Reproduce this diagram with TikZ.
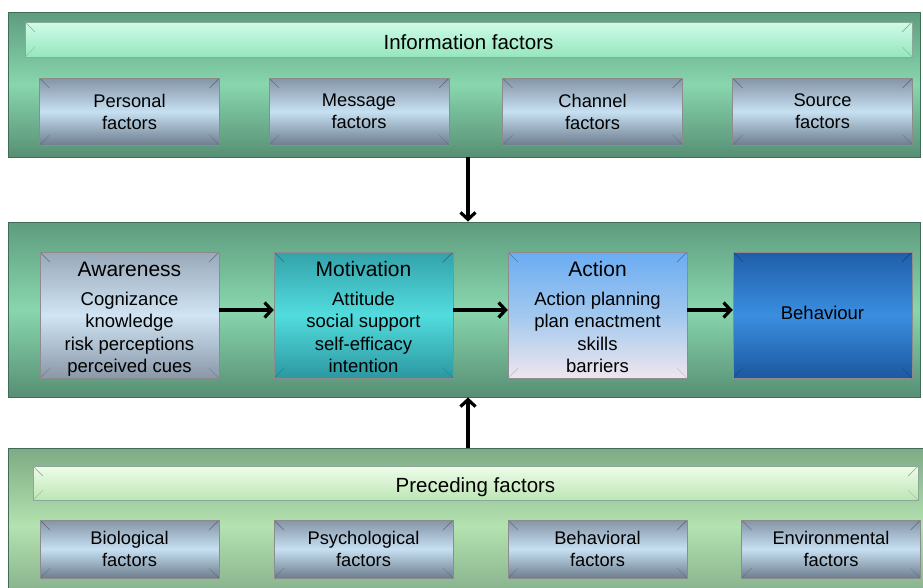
\documentclass[tikz,border=0pt]{standalone}
\usepackage{fontspec}
\setmainfont{Liberation Sans}
\usetikzlibrary{arrows.meta}

\definecolor{panelline}{HTML}{3F6E57}
\definecolor{infotop}{HTML}{5E9C7E}
\definecolor{infomid}{HTML}{88D6AE}
\definecolor{infobot}{HTML}{578F74}
\definecolor{infobartop}{HTML}{CFFCE8}
\definecolor{infobarbot}{HTML}{96E6BE}
\definecolor{pretop}{HTML}{7FAA84}
\definecolor{premid}{HTML}{B4E2B0}
\definecolor{prebot}{HTML}{7FA886}
\definecolor{prebartop}{HTML}{EEFCEA}
\definecolor{prebarbot}{HTML}{BCE6B4}
\definecolor{boxtop}{HTML}{8494A6}
\definecolor{boxmid}{HTML}{C6E0F2}
\definecolor{boxbot}{HTML}{6E7E8E}
\definecolor{awaretop}{HTML}{98A8B8}
\definecolor{awaremid}{HTML}{D0E4F4}
\definecolor{awarebot}{HTML}{8A98A8}
\definecolor{motivtop}{HTML}{33A2AA}
\definecolor{motivmid}{HTML}{52DCDE}
\definecolor{motivbot}{HTML}{2C98A0}
\definecolor{actiontop}{HTML}{6AACF2}
\definecolor{actionmid}{HTML}{A2C8EE}
\definecolor{actionbot}{HTML}{EEE6EE}
\definecolor{behavtop}{HTML}{1F5EA8}
\definecolor{behavmid}{HTML}{3A8EE0}
\definecolor{behavbot}{HTML}{1C58A0}

\tikzset{
  panel/.style={draw=panelline, line width=0.8pt, inner sep=0pt},
  bevel/.style={path picture={
    \draw[black, opacity=0.3, line width=0.7pt]
      (path picture bounding box.north west) -- ++(10,10)
      (path picture bounding box.north east) -- ++(-10,10);
    \draw[black, opacity=0.15, line width=0.7pt]
      (path picture bounding box.south west) -- ++(10,-10)
      (path picture bounding box.south east) -- ++(-10,-10);}},
  titlebar/.style={bevel, draw=panelline!60, line width=0.5pt, inner sep=0pt,
    text height=19pt, text depth=0pt, font=\fontsize{20.5}{24}\selectfont},
  factorbox/.style={bevel, draw=black!45, line width=0.5pt, inner sep=0pt,
    top color=boxtop, bottom color=boxbot, middle color=boxmid,
    align=center, font=\fontsize{18.3}{22}\selectfont},
  stagebox/.style={bevel, draw=black!45, line width=0.5pt, inner sep=0pt,
    minimum width=179, minimum height=126,
    align=center, font=\fontsize{18.5}{22.5}\selectfont,
    execute at end node={\rule[-5pt]{0pt}{0pt}}},
  flow/.style={-{Straight Barb[length=7pt,width=15pt,line width=3.2pt]},
    line width=3.2pt}
}

\newcommand{\stagetitle}[1]{{\fontsize{21}{22}\selectfont\rule{0pt}{24pt}#1}\\[6.5pt]}

\begin{document}
\begin{tikzpicture}[x=1pt, y=-1pt]
  \useasboundingbox (0,0) rectangle (923,587);
  \clip (0,0) rectangle (923,587);

  % Information factors
  \node[panel, top color=infotop, bottom color=infobot, middle color=infomid,
    minimum width=912, minimum height=145] (info) at (464,84.5) {};
  \node[titlebar, top color=infobartop, bottom color=infobarbot,
    minimum width=887, minimum height=35] (infotitle) at (468.5,39.5) {Information factors};
  \foreach \name/\xc/\txt in {personal/129.5/Personal, message/359/Message,
      channel/592.5/Channel, source/822.5/Source}{
    \node[factorbox, minimum width=180, minimum height=67] (\name) at (\xc,111.5) {\txt\\factors};
  }

  % stages
  \node[panel, top color=infotop, bottom color=infobot, middle color=infomid,
    minimum width=912, minimum height=175] (core) at (464,309.5) {};
  \node[stagebox, top color=awaretop, bottom color=awarebot, middle color=awaremid]
    (aware) at (129.5,315) {\stagetitle{Awareness}Cognizance\\knowledge\\risk perceptions\\perceived cues};
  \node[stagebox, top color=motivtop, bottom color=motivbot, middle color=motivmid]
    (motiv) at (363.5,315) {\stagetitle{Motivation}Attitude\\social support\\self-efficacy\\intention};
  \node[stagebox, top color=actiontop, bottom color=actionbot, middle color=actionmid]
    (action) at (597.5,315) {\stagetitle{Action}Action planning\\plan enactment\\skills\\barriers};
  \node[stagebox, top color=behavtop, bottom color=behavbot, middle color=behavmid]
    (behav) at (822.5,315) {Behaviour};

  \draw[flow] ([yshift=5pt]aware.east) -- ([yshift=5pt]motiv.west);
  \draw[flow] ([yshift=5pt]motiv.east) -- ([yshift=5pt]action.west);
  \draw[flow] ([yshift=5pt]action.east) -- ([yshift=5pt]behav.west);

  % Preceding factors
  \node[panel, top color=pretop, bottom color=prebot, middle color=premid,
    minimum width=927, minimum height=157] (pre) at (471.5,526.5) {};
  \node[titlebar, top color=prebartop, bottom color=prebarbot,
    minimum width=885, minimum height=34] (pretitle) at (475.5,483) {Preceding factors};
  \foreach \name/\xc/\txt in {bio/129.5/Biological, psych/363.5/Psychological,
      behavioral/597.5/Behavioral, environ/831/Environmental}{
    \node[factorbox, minimum width=179, minimum height=58] (\name) at (\xc,549) {\txt\\factors};
  }

  % links between panels
  \draw[flow] ([xshift=4pt]info.south) -- ([xshift=4pt]core.north);
  \draw[flow] ([xshift=-3.5pt]pre.north) -- ([xshift=4pt]core.south);
\end{tikzpicture}
\end{document}
